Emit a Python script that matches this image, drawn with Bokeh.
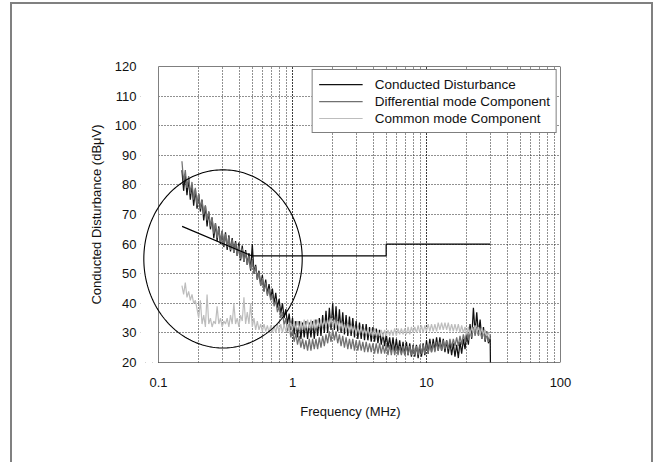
import numpy as np
from bokeh.plotting import figure
from bokeh.models import (Legend, LegendItem, NumeralTickFormatter, FixedTicker,
                          LogTicker, PolyAnnotation, BoxAnnotation)
from bokeh.embed import file_html
from bokeh.resources import INLINE

# ---------------- data ----------------
freq_mhz = [0.1496, 0.1540, 0.1585, 0.1631, 0.1679, 0.1728, 0.1778, 0.1830, 0.1884, 0.1939,
            0.1995, 0.2054, 0.2113, 0.2175, 0.2239, 0.2304, 0.2371, 0.2441, 0.2512, 0.2586,
            0.2661, 0.2738, 0.2818, 0.2901, 0.2985, 0.3073, 0.3162, 0.3255, 0.3350, 0.3447,
            0.3548, 0.3652, 0.3758, 0.3868, 0.3981, 0.4097, 0.4217, 0.4340, 0.4467, 0.4597,
            0.4732, 0.4870, 0.5012, 0.5158, 0.5309, 0.5464, 0.5623, 0.5788, 0.5957, 0.6131,
            0.6310, 0.6494, 0.6683, 0.6879, 0.7079, 0.7286, 0.7499, 0.7718, 0.7943, 0.8175,
            0.8414, 0.8660, 0.8913, 0.9173, 0.9441, 0.9716,
            1.000, 1.029, 1.059, 1.090, 1.122, 1.155, 1.189, 1.223, 1.259, 1.296,
            1.334, 1.373, 1.413, 1.454, 1.496, 1.540, 1.585, 1.631, 1.679, 1.728,
            1.778, 1.830, 1.884, 1.939, 1.995, 2.054, 2.113, 2.175, 2.239, 2.304,
            2.371, 2.441, 2.512, 2.586, 2.661, 2.738, 2.818, 2.901, 2.985, 3.073,
            3.162, 3.255, 3.350, 3.447, 3.548, 3.652, 3.758, 3.868, 3.981, 4.097,
            4.217, 4.340, 4.467, 4.597, 4.732, 4.870, 5.012, 5.158, 5.309, 5.464,
            5.623, 5.788, 5.957, 6.131, 6.310, 6.494, 6.683, 6.879, 7.079, 7.286,
            7.499, 7.718, 7.943, 8.175, 8.414, 8.660, 8.913, 9.173, 9.441, 9.716,
            10.00, 10.29, 10.59, 10.90, 11.22, 11.55, 11.89, 12.23, 12.59, 12.96,
            13.34, 13.73, 14.13, 14.54, 14.96, 15.40, 15.85, 16.31, 16.79, 17.28,
            17.78, 18.30, 18.84, 19.39, 19.95, 20.54, 21.13, 21.75, 22.39, 23.04,
            23.71, 24.41, 25.12, 25.86, 26.61, 27.38, 28.18, 29.01, 29.85]

conducted_freq = freq_mhz + [30.0]
conducted_db = [85, 78, 83.5, 76.5, 82, 75, 80, 73, 78.5, 72,
                77, 71, 75, 68, 73, 66, 71, 65, 69, 62,
                67, 61, 66, 60, 64.5, 59, 64, 58, 63, 57.5,
                62, 57, 61, 56, 60.5, 54.5, 59.5, 54, 58, 53,
                57, 51, 60, 50, 53, 48, 51, 46, 49.5, 44,
                48, 43, 46.5, 41.5, 45, 40, 43.5, 38.5, 41.5, 36.5,
                40, 35, 38, 33, 36.5, 31,
                35, 29.5, 34, 28.5, 34, 28, 33.5, 28.5, 34, 28,
                33.5, 28.5, 34, 28, 34.5, 29, 35, 29, 36, 30,
                37.5, 30, 38.5, 31, 40, 31, 39, 30.5, 38, 30,
                37, 29.5, 36, 29, 35.5, 29, 35, 28.5, 34, 28,
                33.5, 28, 33, 27.5, 33, 27.5, 32, 27, 32, 27,
                31.5, 26.5, 31, 26, 30, 25.5, 29.5, 25, 28.5, 24,
                28.5, 23.5, 28, 23.5, 27.5, 23, 27, 22.5, 27, 22.5,
                26.5, 22, 26, 22, 26, 21.5, 26, 22, 26.5, 22.5,
                27.5, 23, 28, 23.5, 28, 24, 28.5, 24, 28.5, 24,
                28, 23.5, 27.5, 23, 27, 22.5, 26.5, 22, 26, 21.5,
                27, 23, 28, 24.5, 29.5, 26, 33, 28, 38.5, 30,
                37, 29.5, 34.5, 28, 32, 27, 30.5, 26.5, 29,
                20]

differential_db = [88, 81, 85, 79, 83, 77, 81, 75, 79, 73,
                   77, 72, 75, 70, 73, 68, 71, 66, 69, 63.5,
                   67, 62, 65.5, 60.5, 64.5, 59.5, 63.5, 59, 62.5, 58,
                   61.5, 57, 60.5, 56, 59.5, 55, 58.5, 54, 57.5, 53,
                   56, 51.5, 54.5, 50, 52.5, 48, 50.5, 46, 48.5, 44,
                   47, 42.5, 45, 41, 43, 39, 41, 37, 39, 35,
                   37, 32.5, 35, 30.5, 33, 28.5,
                   31, 27, 30, 26, 29, 25, 28, 24.5, 27.5, 24,
                   28, 24, 28, 24.5, 28, 24.5, 28.5, 25, 29, 25.5,
                   29.5, 26.5, 30.5, 27, 31, 27.5, 30.5, 26.5, 29.5, 25.5,
                   29, 25, 28.5, 24.5, 28, 24.5, 28, 24, 27.5, 24,
                   27.5, 24, 27, 23.5, 27, 23.5, 26.5, 23.5, 26.5, 23,
                   26.5, 23, 26.5, 23, 26, 23, 26, 22.5, 26, 22.5,
                   26, 22.5, 25.5, 22.5, 25.5, 22.5, 25.5, 22.5, 25.5, 22.5,
                   25.5, 22.5, 25.5, 22.5, 25.5, 22.5, 26, 23, 26, 23,
                   26, 23, 26.5, 23.5, 26.5, 23.5, 27, 24, 27, 24,
                   27.5, 24.5, 27.5, 24.5, 28, 25, 28, 25.5, 28.5, 25.5,
                   29, 26, 29.5, 27, 30.5, 27.5, 31, 28.5, 32, 29,
                   32, 29, 31.5, 28, 31, 27.5, 30, 27, 29.5]

common_db = [46, 43, 47, 42, 44, 41, 43, 40, 41, 38,
             35, 41, 33, 36, 32, 43, 33, 35, 32, 34,
             33, 39, 33, 35, 32, 34, 33, 35, 32, 36,
             33, 40, 33, 35, 32, 36, 34, 42, 33, 37,
             33, 40, 32, 35, 31, 34, 31, 33, 30.5, 33,
             30.5, 32.5, 30, 32.5, 30, 32.5, 30, 33, 30, 33,
             30, 33, 30.5, 33, 30.5, 33.5,
             31, 34, 31, 34, 31, 34, 31, 34.5, 31.5, 34.5,
             31.5, 34.5, 31.5, 34.5, 31.5, 34.5, 32, 34.5, 32, 34.5,
             32, 34.5, 32, 35, 32, 34.5, 31.5, 34, 31, 33.5,
             30.5, 33, 30.5, 33, 30, 32.5, 30, 32.5, 29.5, 32,
             29.5, 32, 29.5, 31.5, 29.5, 31.5, 29, 31.5, 29, 31.5,
             29, 31, 29, 31, 28.5, 31, 29, 31, 29, 31,
             29, 31.5, 29, 31.5, 29.5, 31.5, 29.5, 31.5, 29.5, 32,
             29.5, 32, 30, 32, 30, 32.5, 30, 32.5, 30, 32.5,
             30.5, 33, 30.5, 33, 30.5, 33, 30.5, 33.5, 31, 33.5,
             31, 33.5, 31, 33.5, 30.5, 33, 30.5, 33, 30.5, 33,
             30, 32.5, 30, 32, 29.5, 32, 29.5, 32, 30, 32.5,
             30, 32, 29.5, 31.5, 29.5, 31, 29, 30, 28]

assert len(conducted_freq) == len(conducted_db), (len(conducted_freq), len(conducted_db))
assert len(freq_mhz) == len(differential_db), (len(freq_mhz), len(differential_db))
assert len(freq_mhz) == len(common_db), (len(freq_mhz), len(common_db))

limit_freq = [0.15, 0.5, 0.5, 5.0, 5.0, 30.0]
limit_db = [66, 56, 56, 56, 60, 60]

series_labels = ["Conducted Disturbance", "Differential mode Component", "Common mode Component"]
y_ticks = [20, 30, 40, 50, 60, 70, 80, 90, 100, 110, 120]
x_min, x_max = 0.1, 100
y_min, y_max = 20, 120

# highlight ellipse (centre in data units, half-axes in decades / dB)
ellipse_center_freq = 0.303
ellipse_center_db = 55.0
ellipse_half_decades = 0.591
ellipse_half_db = 30.1

FONT = "Liberation Sans"
PX_PER_DECADE = 134          # layout: plot box 402 px wide for 3 decades
LEFT_PAD_PX = 18             # extra room so the ellipse can poke out past the plot box
x_start = 10 ** (np.log10(x_min) - LEFT_PAD_PX / PX_PER_DECADE)

p = figure(frame_width=3 * PX_PER_DECADE + LEFT_PAD_PX, frame_height=296,
           x_axis_type="log", x_range=(x_start, x_max), y_range=(y_min, y_max),
           output_backend="svg", toolbar_location=None,
           min_border_left=128, min_border_right=91, min_border_top=62, min_border_bottom=100)
p.margin = (2, 0, 0, 10)
p.background_fill_color = "white"
p.border_fill_color = "white"
p.outline_line_color = None
p.styles = {"border-left": "2px solid #808080", "border-top": "2px solid #808080",
            "border-right": "2px solid #808080"}

# axes
p.xaxis.ticker = LogTicker(num_minor_ticks=10)
p.xaxis.formatter = NumeralTickFormatter(format="0.[0]")
p.yaxis.ticker = FixedTicker(ticks=y_ticks)
for ax in (p.xaxis, p.yaxis):
    ax.axis_line_color = None
    ax.major_tick_line_color = None
    ax.minor_tick_line_color = None
    ax.major_tick_out = 0
    ax.major_tick_in = 0
    ax.minor_tick_out = 0
    ax.minor_tick_in = 0
    ax.major_label_text_font = FONT
    ax.major_label_text_font_size = "13px"
    ax.major_label_text_color = "#111111"
    ax.axis_label_text_font = FONT
    ax.axis_label_text_font_size = "13px"
    ax.axis_label_text_font_style = "normal"
    ax.axis_label_text_color = "#111111"
p.xaxis.major_label_standoff = 15
p.yaxis.major_label_standoff = 4
p.xaxis.axis_label = "Frequency (MHz)"
p.yaxis.axis_label = "Conducted Disturbance (dB\u03bcV)"
p.xaxis.axis_label_standoff = 14
p.yaxis.axis_label_standoff = 8

# grid (dotted, with minor lines at 2..9 of every decade)
p.xgrid.ticker = p.xaxis.ticker
p.ygrid.ticker = p.yaxis.ticker
for g in (p.xgrid, p.ygrid):
    g.grid_line_color = "#222222"
    g.grid_line_dash = "1 2"
    g.grid_line_width = 1
p.xgrid.minor_grid_line_color = "#222222"
p.xgrid.minor_grid_line_dash = "1 2"
p.xgrid.minor_grid_line_width = 1

# blank strip left of the plot box, then the plot box itself
p.add_layout(BoxAnnotation(right=x_min, fill_color="white", fill_alpha=1, line_color=None))
p.add_layout(BoxAnnotation(left=x_min, right=x_max, bottom=y_min, top=y_max,
                           fill_alpha=0, fill_color=None, line_color="black",
                           line_alpha=1, line_width=1, level="underlay"))

# traces
r_cd = p.line(conducted_freq, conducted_db, line_color="#111111", line_width=1.25)
r_dm = p.line(freq_mhz, differential_db, line_color="#707070", line_width=1.25)
r_cm = p.line(freq_mhz, common_db, line_color="#bdbdbd", line_width=1.2)
p.line(limit_freq, limit_db, line_color="black", line_width=1.2)

# ellipse
t = np.linspace(0, 2 * np.pi, 241)
ex = 10 ** (np.log10(ellipse_center_freq) + ellipse_half_decades * np.cos(t))
ey = ellipse_center_db + ellipse_half_db * np.sin(t)
p.add_layout(PolyAnnotation(xs=list(ex), ys=list(ey), fill_color=None, fill_alpha=0,
                            line_color="black", line_alpha=1, line_width=1.1))

legend = Legend(items=[LegendItem(label=series_labels[0], renderers=[r_cd]),
                       LegendItem(label=series_labels[1], renderers=[r_dm]),
                       LegendItem(label=series_labels[2], renderers=[r_cm])],
                location="top_right", margin=3, padding=6, spacing=1,
                glyph_width=44, glyph_height=16, label_height=16, label_standoff=12,
                label_text_font=FONT, label_text_font_size="13.5px", label_text_color="#111111",
                border_line_color="black", border_line_width=1,
                background_fill_color="white", background_fill_alpha=1)
p.add_layout(legend)

open("out.html", "w").write(file_html(p, INLINE))
